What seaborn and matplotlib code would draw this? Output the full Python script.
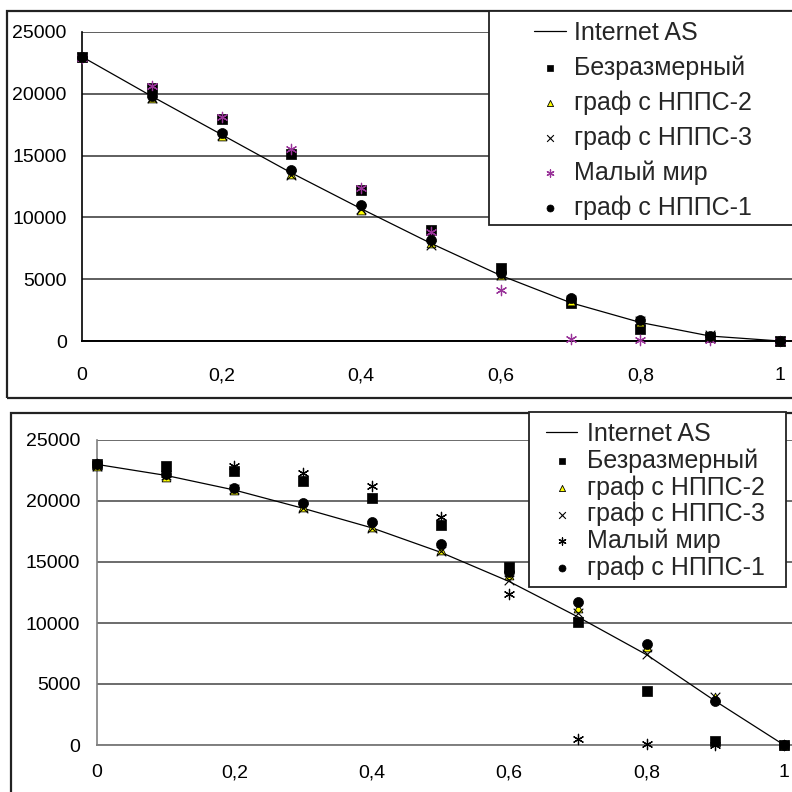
import numpy as np
import pandas as pd
import matplotlib
matplotlib.use("Agg")
import matplotlib.pyplot as plt
from matplotlib.patches import Rectangle
import seaborn as sns

# ---------------- data ----------------
x_vals = [0.0, 0.1, 0.2, 0.3, 0.4, 0.5, 0.6, 0.7, 0.8, 0.9, 1.0]
x_ticks = [0, 0.2, 0.4, 0.6, 0.8, 1.0]
x_tick_labels = ["0", "0,2", "0,4", "0,6", "0,8", "1"]
y_ticks = [0, 5000, 10000, 15000, 20000, 25000]
y_tick_labels = ["0", "5000", "10000", "15000", "20000", "25000"]

series_names = ["Internet AS", "Безразмерный", "граф с НППС-2",
                "граф с НППС-3", "Малый мир", "граф с НППС-1"]

# top chart
top_internet = [23000, 19800, 16700, 13600, 10700, 7900, 5300, 3100, 1500, 400, 0]
top_scalefree = [23000, 20500, 18000, 15100, 12200, 8950, 5900, 3100, 950, 300, 0]
top_npps2 = [23000, 19700, 16600, 13500, 10600, 7900, 5300, 3200, 1500, 300, 0]
top_npps3 = [23000, 19700, 16700, 13400, 10700, 7800, 5300, 3300, 1600, 450, 0]
top_smallworld = [22900, 20600, 18100, 15500, 12400, 8800, 4100, 200, 50, 50, 0]
top_npps1 = [23000, 19800, 16800, 13800, 11000, 8200, 5500, 3500, 1700, 400, 0]

# bottom chart
bot_internet = [23000, 22100, 20900, 19400, 17800, 15800, 13400, 10500, 7400, 3600, 0]
bot_scalefree = [23000, 22900, 22500, 21600, 20250, 18000, 14600, 10100, 4400, 350, 0]
bot_npps2 = [22900, 22000, 20900, 19500, 17900, 16000, 13900, 11200, 8000, 3900, 0]
bot_npps3 = [22900, 22100, 21000, 19400, 17800, 15900, 13500, 10800, 7500, 3900, 0]
bot_smallworld = [23000, 22200, 22850, 22270, 21200, 18700, 12400, 500, 50, 0, 0]
bot_npps1 = [23000, 22200, 21100, 19800, 18300, 16500, 14200, 11700, 8300, 3600, 0]

W = H = 792.0


def fbox(l, t, r, b):
    return [l / W, 1 - b / H, (r - l) / W, (b - t) / H]


sns.set_style("white")
plt.rcParams["font.family"] = ["Liberation Sans", "DejaVu Sans"]

fig = plt.figure(figsize=(7.92, 7.92), dpi=100)

ast = (6, 2, 0)


def draw_chart(ax, internet, scalefree, npps2, npps3, smallworld, npps1,
               xmax, axis_color, grid_color, sw_color, xpad, ypad):
    sns.lineplot(x=x_vals, y=internet, ax=ax, color="black", lw=0.9,
                 label=series_names[0], zorder=3, clip_on=False)
    sns.scatterplot(x=x_vals, y=scalefree, ax=ax, marker="s", color="black",
                    edgecolor="black", s=48, linewidth=0.5,
                    label=series_names[1], zorder=4, clip_on=False)
    sns.scatterplot(x=x_vals, y=npps2, ax=ax, marker="^", color="#FFFF00",
                    edgecolor="black", s=40, linewidth=0.6,
                    label=series_names[2], zorder=4, clip_on=False)
    sns.scatterplot(x=x_vals, y=npps3, ax=ax, marker="x", color="black",
                    s=48, linewidth=0.8, label=series_names[3], zorder=4,
                    clip_on=False)
    sns.scatterplot(x=x_vals, y=smallworld, ax=ax, marker=ast, color=sw_color,
                    edgecolor=sw_color, s=55, linewidth=0.9,
                    label=series_names[4], zorder=4, clip_on=False)
    sns.scatterplot(x=x_vals, y=npps1, ax=ax, marker="o", color="black",
                    edgecolor="black", s=52, linewidth=0.5,
                    label=series_names[5], zorder=5, clip_on=False)
    ax.set_xlim(0, xmax)
    ax.set_ylim(0, 25000)
    ax.set_xticks(x_ticks)
    ax.set_xticklabels(x_tick_labels)
    ax.set_yticks(y_ticks)
    ax.set_yticklabels(y_tick_labels)
    ax.set_axisbelow(True)
    ax.yaxis.grid(True, color=grid_color, lw=1.1)
    ax.xaxis.grid(False)
    for s in ["top", "right"]:
        ax.spines[s].set_visible(False)
    ax.spines["left"].set_color(axis_color)
    ax.spines["bottom"].set_color(axis_color)
    ax.spines["left"].set_linewidth(1.2)
    ax.spines["bottom"].set_linewidth(1.4)
    ax.tick_params(axis="both", which="major", labelsize=14, colors="black",
                   length=4, width=1, direction="out")
    ax.tick_params(axis="x", pad=xpad, color=axis_color)
    ax.tick_params(axis="y", pad=ypad, color=axis_color)
    ax.set_xlabel("")
    ax.set_ylabel("")
    handles, labels = ax.get_legend_handles_labels()
    if ax.get_legend() is not None:
        ax.get_legend().remove()
    return handles, labels


# top chart
ax1 = fig.add_axes(fbox(82, 32, 800, 341))
h1, l1 = draw_chart(ax1, top_internet, top_scalefree, top_npps2, top_npps3,
                    top_smallworld, top_npps1, (800 - 82) / 698.0,
                    "black", "#333333", "#993399", 15, 7)

# bottom chart
ax2 = fig.add_axes(fbox(97, 440, 800, 745))
h2, l2 = draw_chart(ax2, bot_internet, bot_scalefree, bot_npps2, bot_npps3,
                    bot_smallworld, bot_npps1, (800 - 97) / 687.0,
                    "#808080", "#444444", "black", 10, 8)

# chart outer frames
fig.add_artist(Rectangle((7 / W, 1 - 398 / H), (800 - 7) / W, (398 - 11) / H,
                         transform=fig.transFigure, fill=False,
                         edgecolor="#222222", lw=1.6, zorder=1))
fig.add_artist(Rectangle((11 / W, 1 - 800 / H), (800 - 11) / W, (800 - 413) / H,
                         transform=fig.transFigure, fill=False,
                         edgecolor="#222222", lw=1.6, zorder=1))

# legend boxes
fig.add_artist(Rectangle((489 / W, 1 - 225 / H), (800 - 489) / W, (225 - 11) / H,
                         transform=fig.transFigure, facecolor="white",
                         edgecolor="#222222", lw=1.3, zorder=2))
fig.add_artist(Rectangle((529 / W, 1 - 587 / H), (786 - 529) / W, (587 - 412) / H,
                         transform=fig.transFigure, facecolor="white",
                         edgecolor="#222222", lw=1.3, zorder=2))

leg1 = fig.legend(h1, l1, loc="upper left", bbox_to_anchor=(534 / W, 1 - 21 / H),
                  frameon=False, borderpad=0, borderaxespad=0, fontsize=18,
                  handlelength=1.28, handletextpad=0.32, labelspacing=0.42,
                  markerscale=0.7)
leg1.set_zorder(6)
leg2 = fig.legend(h2, l2, loc="upper left", bbox_to_anchor=(546 / W, 1 - 422 / H),
                  frameon=False, borderpad=0, borderaxespad=0, fontsize=18,
                  handlelength=1.24, handletextpad=0.4, labelspacing=0.09,
                  markerscale=0.7)
leg2.set_zorder(6)

fig.savefig("out.png", dpi=100)
